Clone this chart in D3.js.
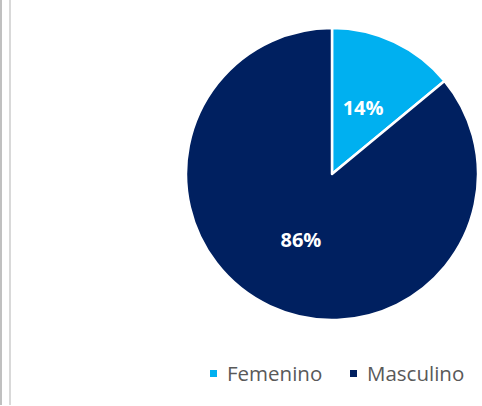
<!DOCTYPE html>
<html lang="es">
<head>
<meta charset="UTF-8">
<script src="https://d3js.org/d3.v7.min.js"></script>
<style>
  html, body { margin: 0; padding: 0; background: #fff; }
  svg { display: block; }
</style>
</head>
<body>
<script>
  var categories = ["Femenino", "Masculino"];
  var values = [14, 86];
  var colors = ["#00B0F0", "#002060"];

  var width = 482, height = 406;
  var cx = 332, cy = 174, radius = 146;

  var svg = d3.select("body").append("svg")
    .attr("width", width)
    .attr("height", height);

  // left border lines of the frame
  svg.append("rect").attr("x", 0).attr("y", 0).attr("width", 2).attr("height", 405).attr("fill", "#c0c0c0");
  svg.append("rect").attr("x", 9).attr("y", 0).attr("width", 2).attr("height", 405).attr("fill", "#d9d9d9");

  var color = d3.scaleOrdinal().domain(categories).range(colors);

  var pie = d3.pie().sort(null).value(d => d.value);
  var data = categories.map((c, i) => ({ name: c, value: values[i] }));

  var arc = d3.arc().innerRadius(0).outerRadius(radius);

  var g = svg.append("g").attr("transform", `translate(${cx},${cy})`);

  var arcs = pie(data);

  g.selectAll("path")
    .data(arcs)
    .enter().append("path")
    .attr("d", arc)
    .attr("fill", d => color(d.data.name))
    .attr("stroke", "#fff")
    .attr("stroke-width", 2.5)
    .attr("stroke-linejoin", "round");

  g.selectAll("text.lbl")
    .data(arcs)
    .enter().append("text")
    .attr("class", "lbl")
    .attr("transform", d => `translate(${arc.centroid(d)})`)
    .attr("text-anchor", "middle")
    .attr("dy", "0.36em")
    .style("font-family", "'Open Sans', sans-serif")
    .style("font-weight", "bold")
    .style("font-size", "20px")
    .attr("fill", "#fff")
    .text(d => d.data.value + "%");

  // legend
  var legendX = [210, 350];
  var legend = svg.selectAll("g.legend")
    .data(categories)
    .enter().append("g")
    .attr("class", "legend")
    .attr("transform", (d, i) => `translate(${legendX[i]},370)`);

  legend.append("rect")
    .attr("width", 7)
    .attr("height", 7)
    .attr("fill", d => color(d));

  legend.append("text")
    .attr("x", 17)
    .attr("y", 4)
    .attr("dy", "0.36em")
    .style("font-family", "'Open Sans', sans-serif")
    .style("font-size", "20.5px")
    .attr("fill", "#595959")
    .text(d => d);
</script>
</body>
</html>
